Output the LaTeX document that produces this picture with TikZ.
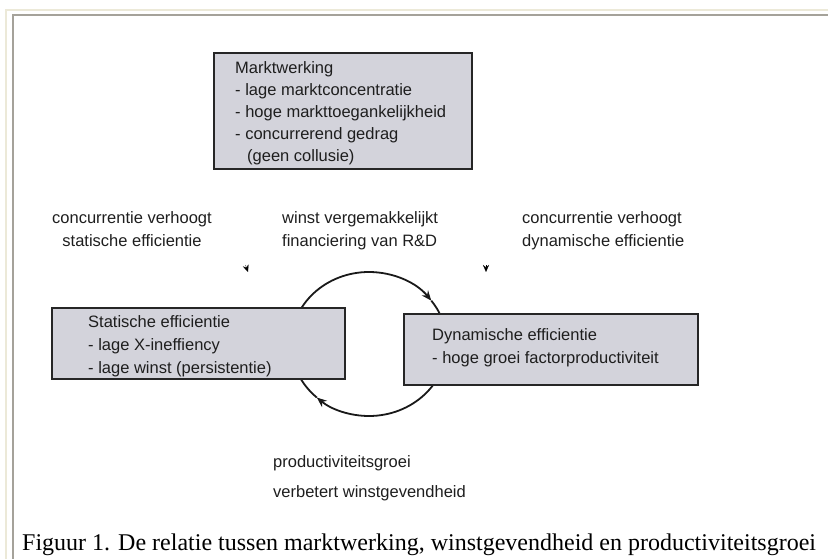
\documentclass[tikz,border=0pt]{standalone}
\usepackage{fontspec}
\setmainfont{Liberation Serif}
\newfontfamily\diagfont{Liberation Sans}
\usetikzlibrary{arrows.meta,calc}
\definecolor{kaderfill}{HTML}{D3D3DB}
\definecolor{randbeige}{HTML}{ECE9D8}
\definecolor{randgrijs}{HTML}{A5A29A}
\definecolor{inkt}{HTML}{1E1E1E}

\begin{document}
\begin{tikzpicture}[x=1pt,y=-1pt,>={Stealth[length=10pt,width=8pt]},
  kader/.style={draw=black!85,line width=1.6pt,fill=kaderfill,anchor=north west,inner sep=0pt},
  tekst/.style={font=\diagfont\fontsize{16.5}{23}\selectfont,text=inkt,inner sep=0pt,align=left,anchor=north west},
  kring/.style={draw=black!90,line width=1.8pt},
  pijlpunt/.style={-{Stealth[length=7pt,width=6pt]},line width=0.3pt}]
  \useasboundingbox (0,0) rectangle (828,559);
  % page frame
  \draw[randbeige,line width=2pt] (6,559) -- (6,10) -- (828,10);
  \draw[randgrijs,line width=2pt] (13,559) -- (13,15) -- (828,15);
  % the cycle, drawn before the boxes so they cover it
  \coordinate (kring) at (369,344);
  \draw[kring,->] (kring) ++(180:78 and 72) arc[start angle=180,end angle=323,x radius=78,y radius=72];
  \draw[kring] (kring) ++(323:78 and 72) arc[start angle=323,end angle=360,x radius=78,y radius=72];
  \draw[kring,->] (kring) ++(0:78 and 72) arc[start angle=0,end angle=132,x radius=78,y radius=72];
  \draw[kring] (kring) ++(132:78 and 72) arc[start angle=132,end angle=180,x radius=78,y radius=72];
  % boxes
  \node[kader,minimum width=258pt,minimum height=116pt] (markt) at (213,52) {};
  \node[kader,minimum width=293pt,minimum height=71pt] (statisch) at (51,307) {};
  \node[kader,minimum width=294pt,minimum height=71pt] (dynamisch) at (403,313) {};
  \node[tekst,font=\diagfont\fontsize{16.5}{22}\selectfont] (markttekst) at ($(markt.north west)+(22,9)$)
    {Marktwerking\\- lage marktconcentratie\\- hoge markttoegankelijkheid\\- concurrerend gedrag\\\hspace*{12pt}(geen collusie)};
  \node[tekst] (statischtekst) at ($(statisch.north west)+(37,8)$)
    {Statische efficientie\\- lage X-ineffiency\\- lage winst (persistentie)};
  \node[tekst] (dynamischtekst) at ($(dynamisch.north west)+(29,15)$)
    {Dynamische efficientie\\- hoge groei factorproductiviteit};
  % labels
  \node[tekst,align=center,anchor=north] (links) at (132,211) {concurrentie verhoogt\\statische efficientie};
  \node[tekst] (midden) at (282,211) {winst vergemakkelijkt\\financiering van R\&D};
  \node[tekst] (rechts) at (522,211) {concurrentie verhoogt\\dynamische efficientie};
  \node[tekst,font=\diagfont\fontsize{16.5}{30}\selectfont] (onder) at (273,455) {productiviteitsgroei\\verbetert winstgevendheid};
  % loose arrow tips below the labels
  \coordinate (puntL) at (248,272);
  \coordinate (puntR) at (486,272);
  \draw[pijlpunt] ($(puntL)+(-2.5,-7)$) -- (puntL);
  \draw[pijlpunt] ($(puntR)+(0,-7)$) -- (puntR);
  % caption
  \node[font=\fontsize{24}{28}\selectfont,anchor=base west,inner sep=0pt] (onderschrift) at (22,550)
    {Figuur 1. De relatie tussen marktwerking, winstgevendheid en productiviteitsgroei};
\end{tikzpicture}
\end{document}
